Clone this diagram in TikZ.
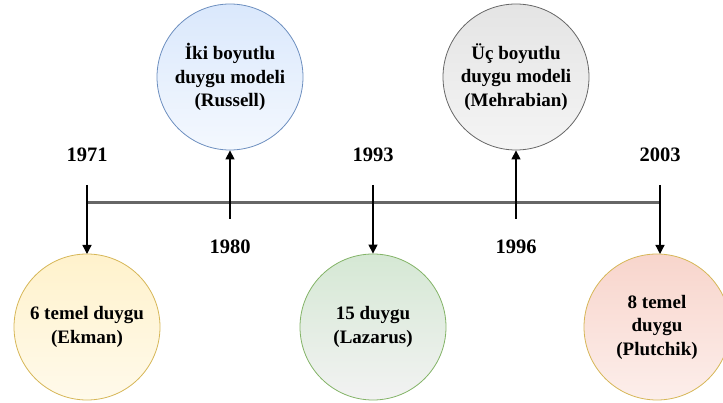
\documentclass[tikz,border=0pt]{standalone}
\usepackage{fontspec}
\setmainfont{Liberation Serif}
\usepackage{xcolor}
\usetikzlibrary{arrows.meta, positioning, calc}

\definecolor{blueF}{HTML}{DAE8FC}
\definecolor{blueD}{HTML}{6C8EBF}
\definecolor{greyF}{HTML}{E4E4E4}
\definecolor{greyD}{HTML}{666666}
\definecolor{yellowF}{HTML}{FFF2CC}
\definecolor{yellowD}{HTML}{D6B656}
\definecolor{greenF}{HTML}{D5E8D4}
\definecolor{greenD}{HTML}{82B366}
\definecolor{redF}{HTML}{F8D5CC}

\begin{document}
\begin{tikzpicture}[x=1pt, y=-1pt,
    model/.style={circle, minimum size=146pt, inner sep=0pt, align=center, line width=0.8pt,
      font=\bfseries\fontsize{19}{23.5}\selectfont},
    year/.style={font=\bfseries\fontsize{20.5}{22}\selectfont},
    arr/.style={line width=1.3pt, -{Triangle[width=9pt, length=9pt]}}]
  \useasboundingbox (0, 0) rectangle (723, 403);

  % time axis
  \coordinate (start) at (87, 203);
  \coordinate (end) at (660, 203);
  \draw [line width=3pt, draw=black!60] (start) -- (end);

  % models above the axis
  \node [model, top color=blueF, bottom color=blueF!30!white, draw=blueD] (russell) at (230, 77)
    {İki boyutlu\\duygu modeli\\(Russell)};
  \node [model, top color=greyF, bottom color=greyF!40!white, draw=greyD] (mehrabian) at (516, 77)
    {Üç boyutlu\\duygu modeli\\(Mehrabian)};

  % models below the axis
  \node [model, top color=yellowF, bottom color=yellowF!40!white, draw=yellowD] (ekman) at (87, 327)
    {6 temel duygu\\(Ekman)};
  \node [model, top color=greenF, bottom color=black!5, draw=greenD] (lazarus) at (373, 327)
    {15 duygu\\(Lazarus)};
  \node [model, top color=redF, bottom color=redF!40!white, draw=yellowD] (plutchik) at (657, 327)
    {8 temel\\duygu\\(Plutchik)};

  % arrows
  \coordinate (t1971) at (87, 185);
  \coordinate (t1980) at (230, 219);
  \coordinate (t1993) at (373, 185);
  \coordinate (t1996) at (516, 219);
  \coordinate (t2003) at (660, 185);
  \draw [arr] (t1971) -- (87, 254);
  \draw [arr] (t1980) -- (russell);
  \draw [arr] (t1993) -- (lazarus);
  \draw [arr] (t1996) -- (mehrabian);
  \draw [arr] (t2003) -- (660, 254);

  % years
  \node [year] (y1971) at (87, 155) {1971};
  \node [year] (y1980) at (230, 247) {1980};
  \node [year] (y1993) at (373, 155) {1993};
  \node [year] (y1996) at (516, 247) {1996};
  \node [year] (y2003) at (660, 155) {2003};
\end{tikzpicture}
\end{document}
